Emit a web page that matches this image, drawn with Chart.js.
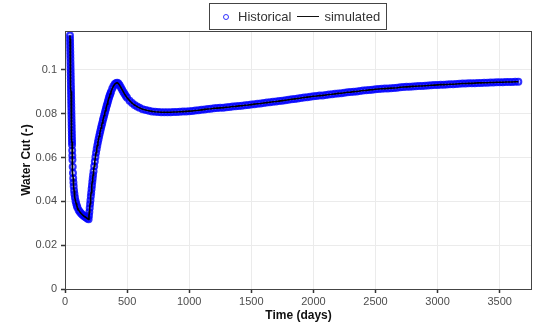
<!DOCTYPE html>
<html>
<head>
<meta charset="utf-8">
<script src="https://cdn.jsdelivr.net/npm/chart.js@4"></script>
<style>
    html, body { margin: 0; padding: 0; background: #ffffff; }
    #wrap { position: relative; width: 538px; height: 323px; }
    #legend {
        position: absolute; left: 209px; top: 3px; height: 25px; padding-right: 6px;
        border: 1px solid #444;
        font: 13px "Liberation Sans", Arial, sans-serif; color: #333;
        display: flex; align-items: center;
    }
    #legend .dot {
        display: inline-block; width: 4px; height: 4px; border-radius: 50%;
        border: 1.5px solid rgba(0, 0, 255, 0.8); margin-left: 13px; margin-right: 9px;
    }
    #legend .dash {
        display: inline-block; width: 22px; height: 0; border-top: 1.5px solid #111;
        margin-left: 6px; margin-right: 5px;
    }
</style>
</head>
<body>
<div id="wrap">
    <canvas id="wc-chart" width="538" height="323"></canvas>
    <div id="legend"><span class="dot"></span><span>Historical</span><span class="dash"></span><span>simulated</span></div>
</div>
<script>
// temps (jours) et water cut
const days = [
    40, 40.5, 41, 41.5, 42, 42.5, 43, 43.5, 44, 44.5, 45, 45.5, 46, 46.5, 47, 47.5,
    48, 48.5, 49, 49.5, 50, 50.5, 51, 51.5, 52, 52.5, 53, 53.5, 54, 54.5, 55, 55.5,
    56, 56.5, 57, 58, 59, 60, 62, 64, 66, 68, 70, 73, 76, 80, 85, 90, 95, 100,
    110, 120, 130, 140, 150, 160, 170, 180, 190,
    193, 196, 199, 202, 205, 208, 211, 214, 217, 220, 223, 226, 230, 235, 240,
    245, 250, 255, 260, 265, 270, 275, 280, 285, 290, 295, 300,
    305, 310, 315, 320, 325, 330, 335, 340, 345, 350, 355, 360, 365, 370, 380, 390, 400, 410, 420, 430, 440, 450,
    460, 470, 480, 490, 500, 520, 540, 560, 580, 600, 625, 650, 675, 700, 725,
    750, 775, 800, 825, 850, 875, 900, 925, 950, 975, 1000, 1025, 1050, 1075,
    1100, 1125, 1150, 1175, 1200, 1225, 1250, 1275, 1300, 1325, 1350, 1375,
    1400, 1425, 1450, 1475, 1500, 1525, 1550, 1575, 1600, 1625, 1650, 1675,
    1700, 1725, 1750, 1775, 1800, 1825, 1850, 1875, 1900, 1925, 1950, 1975,
    2000, 2025, 2050, 2075, 2100, 2125, 2150, 2175, 2200, 2225, 2250, 2275,
    2300, 2325, 2350, 2375, 2400, 2425, 2450, 2475, 2500, 2525, 2550, 2575,
    2600, 2625, 2650, 2675, 2700, 2725, 2750, 2775, 2800, 2825, 2850, 2875,
    2900, 2925, 2950, 2975, 3000, 3025, 3050, 3075, 3100, 3125, 3150, 3175,
    3200, 3225, 3250, 3275, 3300, 3325, 3350, 3375, 3400, 3425, 3450, 3475,
    3500, 3525, 3550, 3575, 3600, 3625, 3650
];

const historical = [
    0.1157, 0.1142, 0.1127, 0.1112, 0.1097, 0.1082, 0.1067, 0.1052, 0.1037, 0.1022, 0.1007, 0.0992, 0.0977, 0.0962, 0.0947, 0.0932,
    0.0917, 0.0902, 0.0887, 0.0872, 0.0857, 0.0842, 0.0827, 0.0812, 0.0797, 0.0782, 0.0767, 0.0752, 0.0738, 0.0724, 0.0710, 0.0696,
    0.0683, 0.0670, 0.0657, 0.0632, 0.0610, 0.0590, 0.0558, 0.0530, 0.0506, 0.0486, 0.0469, 0.0450, 0.0434, 0.0418, 0.0402, 0.0390, 0.0380, 0.0372,
    0.0360, 0.0352, 0.0345, 0.0339, 0.0334, 0.0330, 0.0326, 0.0322, 0.0318,
    0.0334, 0.0352, 0.0370, 0.0388, 0.0405, 0.0423, 0.0440, 0.0457, 0.0473, 0.0490, 0.0505, 0.0520, 0.0538, 0.0561, 0.0582,
    0.0603, 0.0622, 0.0639, 0.0655, 0.0670, 0.0684, 0.0697, 0.0710, 0.0723, 0.0735, 0.0747, 0.0758,
    0.0770, 0.0781, 0.0792, 0.0803, 0.0814, 0.0824, 0.0835, 0.0845, 0.0855, 0.0865, 0.0875, 0.0884, 0.0892, 0.0900, 0.0914, 0.0926, 0.0935, 0.0940, 0.0942, 0.0938, 0.0930, 0.0920,
    0.0910, 0.0900, 0.0890, 0.0881, 0.0873, 0.0860, 0.0849, 0.0840, 0.0833, 0.0827, 0.0821, 0.0817, 0.0814, 0.0811, 0.0809,
    0.0808, 0.0807, 0.0807, 0.0807, 0.0807, 0.0808, 0.0808, 0.0809, 0.0810, 0.0811, 0.0812, 0.0813, 0.0815, 0.0816,
    0.0818, 0.0820, 0.0822, 0.0823, 0.0825, 0.0826, 0.0827, 0.0828, 0.0830, 0.0831, 0.0833, 0.0834,
    0.0836, 0.0837, 0.0839, 0.0840, 0.0842, 0.0844, 0.0846, 0.0847, 0.0849, 0.0851, 0.0853, 0.0855,
    0.0856, 0.0858, 0.0860, 0.0862, 0.0864, 0.0866, 0.0868, 0.0870, 0.0872, 0.0874, 0.0876, 0.0878,
    0.0880, 0.0881, 0.0883, 0.0884, 0.0886, 0.0888, 0.0889, 0.0891, 0.0893, 0.0894, 0.0896, 0.0898,
    0.0899, 0.0901, 0.0902, 0.0904, 0.0906, 0.0907, 0.0909, 0.0910, 0.0912, 0.0913, 0.0914, 0.0915,
    0.0916, 0.0917, 0.0918, 0.0919, 0.0921, 0.0922, 0.0923, 0.0924, 0.0925, 0.0926, 0.0927, 0.0927,
    0.0928, 0.0929, 0.0930, 0.0931, 0.0932, 0.0933, 0.0933, 0.0934, 0.0935, 0.0935, 0.0936, 0.0937,
    0.0938, 0.0938, 0.0939, 0.0939, 0.0940, 0.0941, 0.0941, 0.0942, 0.0942, 0.0943, 0.0943, 0.0944,
    0.0944, 0.0944, 0.0945, 0.0945, 0.0945, 0.0946, 0.0946
];

// la simulation recouvre l'historique : mêmes lectures
const simulated = historical;

const xTicks = [0, 500, 1000, 1500, 2000, 2500, 3000, 3500];
const yTicks = [0, 0.02, 0.04, 0.06, 0.08, 0.1];
const yTickLabels = ['0', '0.02', '0.04', '0.06', '0.08', '0.1'];

const tickFont = { family: '"Liberation Sans", Arial, sans-serif', size: 11 };
const titleFont = { family: '"Liberation Sans", Arial, sans-serif', size: 12, weight: 'bold' };

// cadre gris autour de la zone de tracé
const frameBox = {
    id: 'frameBox',
    afterDatasetsDraw(chart) {
        const { ctx, chartArea: a } = chart;
        ctx.save();
        ctx.strokeStyle = '#444';
        ctx.lineWidth = 1;
        ctx.strokeRect(Math.round(a.left) + 0.5, Math.round(a.top) + 0.5,
            Math.round(a.right - a.left) - 1, Math.round(a.bottom - a.top));
        ctx.restore();
    }
};

new Chart(document.getElementById('wc-chart'), {
    type: 'scatter',
    data: {
        datasets: [
            {
                label: 'simulated',
                data: days.map((d, i) => ({ x: d, y: simulated[i] })),
                showLine: true,
                borderColor: '#000000',
                borderWidth: 1.6,
                pointRadius: 0,
                tension: 0,
                order: 0
            },
            {
                label: 'Historical',
                data: days.map((d, i) => ({ x: d, y: historical[i] })),
                showLine: false,
                pointStyle: 'circle',
                pointRadius: 3,
                borderWidth: 2,
                borderColor: 'rgba(0, 0, 255, 0.8)',
                backgroundColor: 'rgba(0, 0, 255, 0.2)',
                order: 1
            }
        ]
    },
    options: {
        responsive: false,
        animation: false,
        events: [],
        layout: { padding: { top: 31, right: 3, left: 0, bottom: 0 } },
        plugins: {
            legend: { display: false },
            tooltip: { enabled: false }
        },
        scales: {
            x: {
                type: 'linear',
                min: 0,
                max: 3760,
                afterBuildTicks: (scale) => { scale.ticks = xTicks.map(v => ({ value: v })); },
                afterFit: (scale) => { scale.height = 34; },
                grid: { color: '#ebebeb', tickColor: '#333', tickLength: 4, tickWidth: 1.5 },
                border: { display: false },
                ticks: { color: '#4d4d4d', font: tickFont, padding: 2, maxRotation: 0,
                    callback: (v) => String(v) },
                title: { display: true, text: 'Time (days)', color: '#111', font: titleFont,
                    padding: { top: 0, bottom: 0 } }
            },
            y: {
                min: 0,
                max: 0.1178,
                afterBuildTicks: (scale) => { scale.ticks = yTicks.map(v => ({ value: v })); },
                afterFit: (scale) => { scale.width = 65; },
                grid: { color: '#ebebeb', tickColor: '#333', tickLength: 4, tickWidth: 1.5 },
                border: { display: false },
                ticks: { color: '#4d4d4d', font: tickFont, padding: 4,
                    callback: (v, idx) => yTickLabels[idx] },
                title: { display: true, text: 'Water Cut (-)', color: '#111', font: titleFont,
                    padding: { top: 19, bottom: 0 } }
            }
        }
    },
    plugins: [frameBox]
});
</script>
</body>
</html>
